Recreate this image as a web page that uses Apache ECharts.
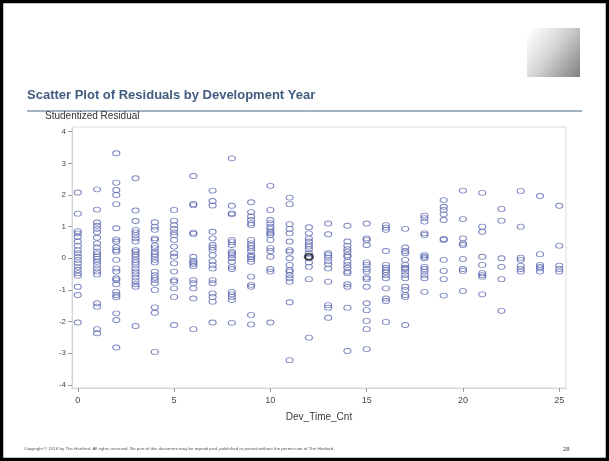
<!DOCTYPE html>
<html>
<head>
<meta charset="utf-8">
<script src="https://cdn.jsdelivr.net/npm/echarts@6/dist/echarts.min.js"></script>
<style>
  html, body { margin: 0; padding: 0; background: #ffffff; }
  #chart { width: 609px; height: 461px; }
</style>
</head>
<body>
<div id="chart"></div>
<script>
// Development years on the x axis
const devYears = [0, 1, 2, 3, 4, 5, 6, 7, 8, 9, 10, 11, 12, 13, 14, 15, 16, 17, 18, 19, 20, 21, 22, 23, 24, 25];

// Studentized residuals observed in each development year
const yr0 = [2.08, 1.41, 0.86, 0.79, 0.68, 0.53, 0.40, 0.26, 0.16, 0.05, -0.05, -0.16, -0.27, -0.37, -0.47, -0.55, -0.90, -1.16, -2.03];
const yr1 = [2.18, 1.54, 1.13, 1.03, 0.93, 0.82, 0.65, 0.47, 0.34, 0.21, 0.13, 0.05, -0.02, -0.11, -0.21, -0.32, -0.42, -0.51, -1.42, -1.53, -2.24, -2.37];
const yr2 = [3.32, 2.39, 2.16, 2.00, 1.71, 0.95, 0.60, 0.53, 0.35, 0.26, 0.21, -0.05, -0.32, -0.42, -0.63, -0.69, -0.82, -1.06, -1.16, -1.23, -1.74, -1.95, -2.82];
const yr3 = [2.53, 1.51, 1.18, 0.90, 0.82, 0.74, 0.63, 0.53, 0.26, 0.21, 0.13, 0.05, -0.05, -0.13, -0.21, -0.32, -0.42, -0.51, -0.61, -0.72, -0.82, -0.90, -2.14];
const yr4 = [1.14, 1.00, 0.90, 0.63, 0.58, 0.40, 0.32, 0.21, 0.13, 0.05, -0.05, -0.13, -0.42, -0.53, -0.61, -0.69, -0.79, -1.00, -1.55, -1.72, -2.96];
const yr5 = [1.53, 1.19, 1.05, 0.93, 0.82, 0.74, 0.58, 0.37, 0.16, 0.05, -0.16, -0.42, -0.69, -0.74, -0.95, -1.22, -2.11];
const yr6 = [2.60, 1.72, 1.68, 0.81, 0.77, 0.05, -0.08, -0.13, -0.18, -0.25, -0.69, -0.79, -0.95, -1.27, -2.24];
const yr7 = [2.14, 1.81, 1.67, 0.84, 0.63, 0.42, 0.34, 0.26, 0.10, -0.09, -0.21, -0.32, -0.69, -0.79, -1.11, -1.22, -1.37, -2.03];
const yr8 = [3.16, 1.66, 1.42, 1.39, 0.58, 0.51, 0.42, 0.21, 0.16, 0.10, 0.00, -0.11, -0.27, -0.34, -1.06, -1.14, -1.22, -1.32, -2.04];
const yr9 = [1.77, 1.46, 1.32, 1.21, 1.11, 1.05, 0.58, 0.47, 0.40, 0.32, 0.23, 0.10, 0.05, -0.02, -0.11, -0.58, -0.84, -0.90, -1.79, -2.09];
const yr10 = [2.29, 1.53, 1.21, 1.11, 1.00, 0.93, 0.84, 0.79, 0.74, 0.58, 0.32, 0.23, 0.05, -0.34, -0.42, -2.03];
const yr11 = [1.92, 1.71, 1.08, 0.93, 0.79, 0.53, 0.26, 0.21, 0.00, -0.21, -0.37, -0.42, -0.53, -0.63, -0.74, -1.39, -3.22];
const yr12 = [0.98, 0.79, 0.63, 0.53, 0.44, 0.37, 0.29, 0.16, 0.00, -0.13, -0.27, -0.66, -2.51];
const yr13 = [1.10, 0.76, 0.16, 0.10, 0.02, -0.09, -0.19, -0.32, -0.74, -1.48, -1.56, -1.88];
const yr14 = [1.03, 0.53, 0.40, 0.29, 0.21, 0.10, 0.05, -0.11, -0.21, -0.30, -0.42, -0.47, -0.82, -0.90, -1.56, -2.93];
const yr15 = [1.10, 0.63, 0.58, 0.42, -0.13, -0.21, -0.34, -0.42, -0.61, -0.66, -0.90, -1.42, -1.64, -1.98, -2.24, -2.87];
const yr16 = [1.05, 0.97, 0.90, 0.23, -0.21, -0.30, -0.37, -0.44, -0.53, -0.63, -0.95, -1.27, -1.35, -2.01];
const yr17 = [0.93, 0.34, 0.23, 0.16, -0.05, -0.21, -0.30, -0.34, -0.42, -0.53, -0.63, -0.90, -1.00, -1.16, -1.22, -2.11];
const yr18 = [1.35, 1.27, 1.16, 0.79, 0.74, 0.10, 0.05, 0.00, -0.27, -0.34, -0.42, -0.53, -0.63, -1.06];
const yr19 = [1.84, 1.63, 1.53, 1.39, 1.21, 0.61, 0.58, -0.05, -0.40, -0.66, -1.18];
const yr20 = [2.14, 1.24, 0.63, 0.47, 0.42, -0.02, -0.34, -0.40, -1.03];
const yr21 = [2.07, 1.00, 0.84, 0.05, -0.21, -0.47, -0.53, -0.58, -1.14];
const yr22 = [1.56, 1.19, 0.00, -0.27, -0.66, -1.66];
const yr23 = [2.13, 1.00, 0.02, -0.05, -0.24, -0.34, -0.42];
const yr24 = [1.97, 0.13, -0.21, -0.27, -0.32, -0.42];
const yr25 = [1.66, 0.40, -0.23, -0.34, -0.42];

// The selected observation, drawn in black
const selectedPoint = [12, 0.05];

// Tick values on both axes
const xTicks = [0, 5, 10, 15, 20, 25];
const yTicks = [-4, -3, -2, -1, 0, 1, 2, 3, 4];

const residualColumns = [yr0, yr1, yr2, yr3, yr4, yr5, yr6, yr7, yr8, yr9, yr10, yr11, yr12,
  yr13, yr14, yr15, yr16, yr17, yr18, yr19, yr20, yr21, yr22, yr23, yr24, yr25];

const points = [];
devYears.forEach(function (yr, i) {
  residualColumns[i].forEach(function (v) { points.push([yr, v]); });
});

const FONT = '"Liberation Sans", Arial, Helvetica, sans-serif';
const chart = echarts.init(document.getElementById('chart'), null, { renderer: 'canvas' });

chart.setOption({
  animation: false,
  backgroundColor: '#ffffff',
  grid: {
    left: 72, right: 43, top: 127, bottom: 73,
    show: true, borderColor: '#dcdcdc', borderWidth: 1, backgroundColor: 'transparent'
  },
  xAxis: {
    type: 'value',
    min: -0.3, max: 25.35,
    name: 'Dev_Time_Cnt',
    nameLocation: 'middle',
    nameGap: 24,
    nameTextStyle: { fontFamily: FONT, fontSize: 10, color: '#3a3a3a' },
    axisLine: { show: true, onZero: false, lineStyle: { color: '#d4d4d4', width: 1 } },
    axisTick: { show: true, length: 4, customValues: xTicks, lineStyle: { color: '#9a9a9a' } },
    axisLabel: { customValues: xTicks, fontFamily: FONT, fontSize: 9, color: '#4a4a4a', margin: 8 },
    splitLine: { show: false }
  },
  yAxis: {
    type: 'value',
    min: -4.1, max: 4.15,
    axisLine: { show: true, onZero: false, lineStyle: { color: '#d4d4d4', width: 1 } },
    axisTick: { show: true, length: 4, customValues: yTicks, lineStyle: { color: '#9a9a9a' } },
    axisLabel: { customValues: yTicks, fontFamily: FONT, fontSize: 8, color: '#4a4a4a', margin: 6 },
    splitLine: { show: false }
  },
  series: [
    {
      type: 'scatter',
      data: points,
      symbol: 'circle',
      symbolSize: [7, 5],
      itemStyle: { color: 'transparent', borderColor: '#5c69b0', borderWidth: 1, opacity: 0.8 },
      emphasis: { disabled: true },
      z: 3
    },
    {
      type: 'scatter',
      data: [selectedPoint],
      symbol: 'circle',
      symbolSize: [8, 6],
      itemStyle: { color: 'transparent', borderColor: '#1e1e1e', borderWidth: 2 },
      emphasis: { disabled: true },
      z: 4
    }
  ],
  graphic: [
    // slide frame
    { type: 'rect', shape: { x: 1.5, y: 1.5, width: 606, height: 458 },
      style: { fill: 'none', stroke: '#000000', lineWidth: 3.5 }, z: 100 },
    // corner accent
    { type: 'rect', shape: { x: 527, y: 28, width: 53, height: 49 },
      style: {
        fill: new echarts.graphic.LinearGradient(0, 0.1, 1, 0.9, [
          { offset: 0, color: '#ffffff' },
          { offset: 0.45, color: '#d6d6d6' },
          { offset: 1, color: '#868686' }
        ])
      } },
    // slide heading
    { type: 'text', left: 27, top: 89,
      style: { text: 'Scatter Plot of Residuals by Development Year', fontFamily: FONT,
        fontSize: 13, fontWeight: 'bold', fill: '#415c7e' } },
    { type: 'line', shape: { x1: 27, y1: 111, x2: 582, y2: 111 },
      style: { stroke: '#4a6484', lineWidth: 1 } },
    // y axis title
    { type: 'text', left: 45, top: 111,
      style: { text: 'Studentized Residual', fontFamily: FONT, fontSize: 10, fill: '#333333' } },
    // footer
    { type: 'text', left: 24, top: 447,
      style: { text: 'Copyright \u00a9 2016 by The Hartford. All rights reserved. No part of this document may be reproduced, published or posted without the permission of The Hartford.',
        fontFamily: FONT, fontSize: 4.4, fill: '#555555' } },
    { type: 'text', left: 563, top: 446,
      style: { text: '28', fontFamily: FONT, fontSize: 6, fill: '#444444' } }
  ]
});
</script>
</body>
</html>
